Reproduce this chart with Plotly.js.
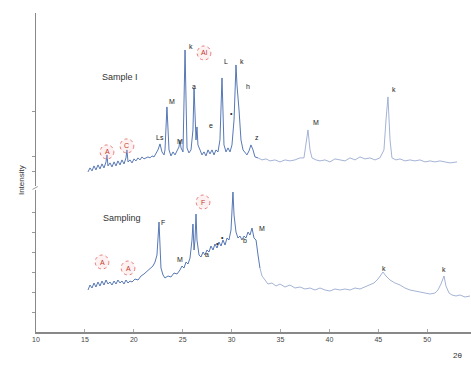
<!DOCTYPE html>
<html>
<head>
<meta charset="utf-8">
<script src="https://cdn.plot.ly/plotly-3.0.1.min.js"></script>
<style>html,body{margin:0;padding:0;background:#fff;}#chart{width:471px;height:370px;}</style>
</head>
<body>
<div id="chart"></div>
<script>
// 2θ tick labels
const tickVals = [10, 15, 20, 25, 30, 35, 40, 45, 50];
const tickText = ['10', '15', '20', '25', '30', '35', '40', '45', '50'];

// Upper pattern ("Sample I")
const topX = [15.32,15.52,15.73,15.93,16.13,16.34,16.54,16.75,16.95,17.16,17.26,17.36,17.57,17.77,17.98,18.18,18.38,18.59,18.79,19.00,19.20,19.30,19.41,19.61,19.82,20.02,20.22,20.43,20.63,20.84,21.04,21.25,21.45,21.66,21.86,22.07,22.27,22.47,22.68,22.88,23.09,23.19,23.39,23.60,23.80,24.01,24.21,24.42,24.62,24.72,24.83,25.03,25.24,25.44,25.64,25.85,26.05,26.16,26.36,26.46,26.56,26.77,26.97,27.18,27.38,27.59,27.79,28.00,28.20,28.40,28.61,28.81,29.02,29.22,29.43,29.63,29.84,30.04,30.25,30.45,30.55,30.76,30.96,31.17,31.37,31.57,31.78,31.98,32.19,32.39,32.70,33.11,33.52,33.93,34.44,34.95,35.46,35.97,36.48,36.99,37.40,37.61,37.81,38.02,38.22,38.63,39.04,39.55,40.06,40.57,41.08,41.60,42.11,42.62,43.13,43.64,44.15,44.66,45.17,45.58,45.79,45.99,46.20,46.40,46.81,47.22,47.73,48.24,48.75,49.26,49.78,50.29,50.80,51.31,51.82,52.33,53.05];
const topY = [14,18,15,20,16,21,17,22,18,24,31,20,23,19,24,20,25,21,26,22,28,36,24,26,23,27,25,28,26,29,27,28,29,28,30,29,32,36,42,34,31,36,79,36,30,34,31,36,39,46,38,34,136,38,33,36,56,98,46,59,41,36,31,34,30,36,32,36,31,36,34,46,108,41,34,38,34,41,66,121,101,76,46,36,33,31,35,41,36,29,28,26,27,25,26,24,26,25,26,28,28,41,56,36,28,26,25,26,24,27,26,25,28,26,29,27,28,26,28,36,66,89,46,28,26,27,25,26,25,26,24,25,24,25,24,23,24];

// Lower pattern ("Sampling")
const botX = [15.32,15.52,15.73,15.93,16.13,16.34,16.54,16.75,16.95,17.16,17.36,17.57,17.77,17.98,18.18,18.38,18.59,18.79,19.00,19.20,19.41,19.61,19.82,20.12,20.43,20.74,21.04,21.35,21.66,21.96,22.17,22.37,22.58,22.68,22.78,22.99,23.19,23.50,23.80,24.11,24.42,24.72,24.93,25.13,25.34,25.54,25.75,25.95,26.05,26.16,26.26,26.36,26.46,26.67,26.87,27.08,27.28,27.48,27.69,27.89,28.10,28.30,28.51,28.71,28.92,29.12,29.33,29.53,29.73,29.94,30.14,30.25,30.45,30.65,30.86,31.06,31.27,31.47,31.68,31.88,32.09,32.29,32.50,32.70,32.90,33.11,33.42,33.72,34.13,34.54,34.95,35.46,35.97,36.48,36.99,37.51,38.02,38.53,39.04,39.55,40.06,40.57,41.08,41.60,42.11,42.62,43.13,43.64,44.15,44.56,44.97,45.28,45.48,45.79,46.20,46.71,47.22,47.73,48.24,48.75,49.26,49.78,50.29,50.80,51.10,51.41,51.62,51.72,51.92,52.23,52.54,52.95,53.35,53.87,54.38];
const botY = [42,47,44,49,45,50,46,51,47,52,48,50,47,51,48,52,49,51,48,52,49,51,50,53,52,56,58,61,64,66,70,77,110,82,64,57,54,56,55,59,58,62,66,64,70,68,74,92,108,82,92,118,92,77,75,80,77,82,80,86,82,88,84,90,86,92,87,94,92,102,140,117,100,94,96,92,96,94,100,97,104,94,92,77,64,56,52,48,49,46,48,45,47,44,45,43,44,42,44,42,41,43,42,43,42,44,43,45,47,49,53,57,60,56,52,49,47,44,42,41,40,39,38,39,42,48,53,56,46,39,37,36,37,35,36];

// Sample names
const sampleNames = ['Sample I', 'Sampling'];

// Peak labels: upper pattern
const topLabX = [22.68,23.91,24.72,25.85,26.16,27.89,29.43,29.94,31.06,31.68,32.60,38.63,46.61];
const topLabY = [48,84,44,139,99,60,124,72,124,99,48,63,96];
const topLabT = ['Ls','M','M','k','a','e','L','•','k','h','z','M','k'];
// Circled labels: upper pattern
const topCirX = [17.26,19.30,27.18];
const topCirY = [34,40,133];
const topCirT = ['A','C','Al'];

// Peak labels: lower pattern
const botLabX = [22.99,24.72,27.48,28.51,29.12,31.37,33.11,45.58,51.72];
const botLabY = [110,73,78,89,95,92,104,64,63];
const botLabT = ['F','M','a','•','•','b','M','k','k'];
// Circled labels: lower pattern
const botCirX = [16.75,19.41,27.08];
const botCirY = [70,64,130];
const botCirT = ['A','A','F'];

const darkCol = '#4469ad';
const lightCol = '#9aaad0';
const split = 33;
function part(xs, ys, keep) {
  const ox = [], oy = [];
  xs.forEach((v, i) => { if (keep(v)) { ox.push(v); oy.push(ys[i]); } });
  return [ox, oy];
}
const [tlx, tly] = part(topX, topY, v => v <= split);
const [trx, try_] = part(topX, topY, v => v >= 32.7);
const [blx, bly] = part(botX, botY, v => v <= split);
const [brx, bry] = part(botX, botY, v => v >= 32.9);
const traces = [
  {x: trx, y: try_, xaxis: 'x', yaxis: 'y2', mode: 'lines', line: {color: lightCol, width: 0.9}, hoverinfo: 'skip'},
  {x: tlx, y: tly, xaxis: 'x', yaxis: 'y2', mode: 'lines', line: {color: darkCol, width: 0.9}, hoverinfo: 'skip'},
  {x: brx, y: bry, xaxis: 'x', yaxis: 'y', mode: 'lines', line: {color: lightCol, width: 0.9}, hoverinfo: 'skip'},
  {x: blx, y: bly, xaxis: 'x', yaxis: 'y', mode: 'lines', line: {color: darkCol, width: 0.9}, hoverinfo: 'skip'}
];

const ann = [];
const shapes = [];
function addLabels(xs, ys, ts, yref) {
  xs.forEach((xv, i) => ann.push({x: xv, y: ys[i], xref: 'x', yref: yref, text: ts[i], showarrow: false,
    font: {family: 'Liberation Sans, Arial, sans-serif', size: 7, color: '#222'}}));
}
function addCircles(xs, ys, ts, yref) {
  xs.forEach((xv, i) => {
    ann.push({x: xv, y: ys[i], xref: 'x', yref: yref, text: ts[i], showarrow: false,
      font: {family: 'Liberation Sans, Arial, sans-serif', size: 7, color: '#c0392b'}});
    shapes.push({type: 'circle', xref: 'x', yref: yref, x0: xv - 0.7, x1: xv + 0.7, y0: ys[i] - 7, y1: ys[i] + 7,
      line: {color: '#e06060', width: 0.8, dash: 'dot'}, fillcolor: 'rgba(250,200,200,0.25)'});
  });
}
addLabels(topLabX, topLabY, topLabT, 'y2');
addCircles(topCirX, topCirY, topCirT, 'y2');
addLabels(botLabX, botLabY, botLabT, 'y');
addCircles(botCirX, botCirY, botCirT, 'y');

ann.push({x: 0.148, y: 0.82, xref: 'paper', yref: 'paper', text: sampleNames[0], showarrow: false,
  font: {family: 'Liberation Sans, Arial, sans-serif', size: 9, color: '#333'}});
ann.push({x: 0.150, y: 0.357, xref: 'paper', yref: 'paper', text: sampleNames[1], showarrow: false,
  font: {family: 'Liberation Sans, Arial, sans-serif', size: 9, color: '#333'}});
ann.push({x: -0.048, y: 0.475, xref: 'paper', yref: 'paper', text: 'Intensity', textangle: -90, showarrow: false,
  font: {family: 'Liberation Sans, Arial, sans-serif', size: 8, color: '#333'}});
ann.push({x: 0.985, y: -0.095, xref: 'paper', yref: 'paper', text: '2θ', showarrow: false,
  font: {family: 'Liberation Sans, Arial, sans-serif', size: 8, color: '#333'}});

// axis break mark
shapes.push({type: 'line', xref: 'paper', yref: 'paper', x0: -0.008, x1: 0.004, y0: 0.447, y1: 0.456,
  line: {color: '#999', width: 1}});

const layout = {
  width: 471, height: 370,
  margin: {l: 36, r: 0, t: 13, b: 38},
  paper_bgcolor: '#fff', plot_bgcolor: '#fff',
  showlegend: false,
  font: {family: 'Liberation Sans, Arial, sans-serif', size: 8, color: '#444'},
  xaxis: {range: [10, 54.48], tickvals: tickVals, ticktext: tickText, ticks: 'inside', ticklen: 3,
    tickcolor: '#aaa', showline: true, linecolor: '#888', linewidth: 1.5, showgrid: false, zeroline: false,
    anchor: 'y', tickfont: {size: 7, color: '#444'}},
  yaxis: {domain: [0, 0.445], range: [0, 142], showline: true, linecolor: '#888', linewidth: 1.5,
    ticks: 'outside', ticklen: 3, tickcolor: '#999', tickvals: [20, 40, 60, 80, 100, 120],
    showticklabels: false, showgrid: false, zeroline: false},
  yaxis2: {domain: [0.458, 1], range: [0, 173], showline: true, linecolor: '#888', linewidth: 1.5,
    ticks: 'outside', ticklen: 3, tickcolor: '#999', tickvals: [14, 29, 74],
    showticklabels: false, showgrid: false, zeroline: false, anchor: 'x'},
  annotations: ann,
  shapes: shapes
};
Plotly.newPlot('chart', traces, layout, {displayModeBar: false, staticPlot: true});
</script>
</body>
</html>
